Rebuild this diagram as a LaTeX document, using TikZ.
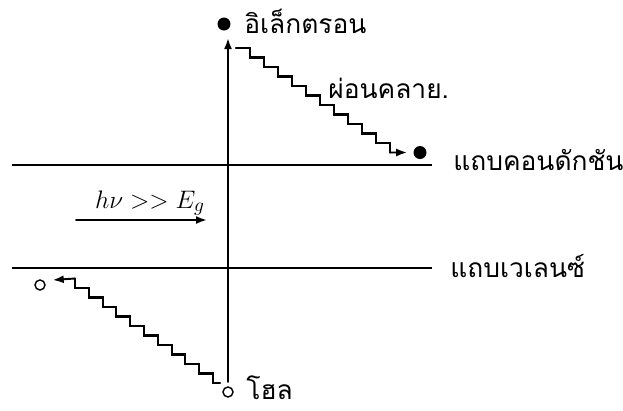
\documentclass[tikz,border=0pt]{standalone}
\usepackage{amsmath}
\usepackage{fontspec}
\newfontfamily\thaifont[Script=Thai]{Loma}
\usetikzlibrary{calc,positioning,arrows.meta}
\newcommand{\bandarrowstyle}{-{Latex[length=2.2mm,width=1.6mm]}}

\begin{document}
\begin{tikzpicture}[
    x=0.02cm, y=-0.02cm,
    font=\thaifont\fontsize{15}{17}\selectfont,
    sig/.style={\bandarrowstyle, line width=1.1pt, line cap=round, line join=round},
    sigline/.style={line width=1.2pt, line cap=round, line join=miter},
    bandline/.style={line width=1.1pt},
    edot/.style={circle, fill=black, minimum size=2.6mm, inner sep=0pt},
    hdot/.style={circle, draw, line width=0.8pt, minimum size=2.0mm, inner sep=0pt},
    bandtxt/.style={anchor=west, inner sep=0pt}
]
  \useasboundingbox (0,0) rectangle (623,410);
  \def\runx{14}
  \def\riser{9.5}

  % bands
  \coordinate (cb-l) at (12,165);
  \coordinate (cb-r) at (432,165);
  \coordinate (vb-l) at (12,268);
  \coordinate (vb-r) at (432,268);
  \draw[bandline] (cb-l) -- (cb-r);
  \draw[bandline] (vb-l) -- (vb-r);
  \node[bandtxt] (cb-txt) at (453,160) {แถบคอนดักชัน};
  \node[bandtxt] (vb-txt) at (450,266) {แถบเวเลนซ์};

  % excitation axis
  \coordinate (axis-bot) at (228,382);
  \coordinate (axis-top) at (228,38);
  \draw[sig] (axis-bot) -- (axis-top);

  \node[edot] (e-top) at (224,24) {};
  \node[bandtxt] (e-txt) at (244,21) {อิเล็กตรอน};
  \node[hdot] (h-bot) at (228,392) {};
  \node[bandtxt] (h-txt) at (246,388) {โฮล};

  % photon
  \node[font=\fontsize{15}{17}\selectfont] (photon-txt) at (150,203) {$h\nu >> E_g$};
  \coordinate (photon-l) at (76,220);
  \coordinate (photon-r) at (207,220);
  \draw[sig] (photon-l) -- (photon-r);

  % electron relaxation
  \coordinate (relax-start) at (236,48);
  \node[edot] (e-low) at (420,152.5) {};
  \draw[sigline] (relax-start)
    \foreach \k in {1,...,11} { -- ++(\runx,0) -- ++(0,\riser) } coordinate (relax-end);
  \draw[sig] (relax-end) -- ([xshift=-0.12cm]e-low.west);
  \node[bandtxt] (relax-txt) at (328,88) {ผ่อนคลาย.};

  % hole relaxation
  \coordinate (hole-start) at (220,383);
  \node[hdot] (h-top) at (40,285) {};
  \draw[sigline] (hole-start) -- ++(-7,0)
    \foreach \k in {1,...,10} { -- ++(0,-\riser) -- ++(-13.8,0) } -- ++(0,-\riser) coordinate (hole-end);
  \draw[sig] (hole-end) -- ([xshift=0.14cm,yshift=0.1cm]h-top.east);
\end{tikzpicture}
\end{document}
